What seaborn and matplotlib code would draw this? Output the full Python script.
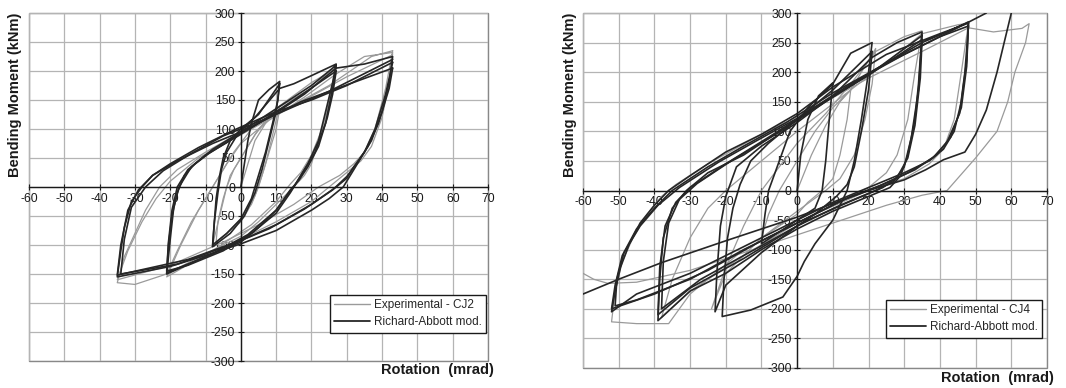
import matplotlib
matplotlib.use("Agg")
import matplotlib.pyplot as plt
import seaborn as sns
import pandas as pd
from matplotlib.lines import Line2D
from matplotlib.patches import Rectangle

# ---------------- data (rotation mrad, moment kNm) ----------------
# Panel 1: CJ2
cj2_model_small1 = [(0,0),(1,40),(2,80),(3,110),(5,150),(8,168),(11,182),(10.5,150),(9,110),(7,60),(5,20),(3,-20),(0,-55),(-4,-80),(-8,-100),(-7.5,-60),(-7,-20),(-6,20),(-5,50),(-3,80),(0,100),(5,125),(11,178)]
cj2_model_small2 = [(11,178),(10,130),(8,80),(6,30),(4,-10),(1,-50),(-3,-80),(-8,-103),(-7.5,-60),(-6.5,-10),(-5.5,30),(-4,60),(-1,90),(4,120),(11,170)]
cj2_model_mid1 = [(11,170),(15,178),(20,192),(27,212),(26,180),(24,130),(22,80),(19,40),(17,20),(15,0),(13,-15),(10,-40),(5,-70),(0,-95),(-10,-120),(-21,-148),(-20.5,-100),(-19.5,-50),(-18,-10),(-16,20),(-13,40),(-8,65),(0,95),(10,135),(20,175),(27,210)]
cj2_model_mid2 = [(27,210),(26,170),(24,110),(21,60),(18,30),(16,10),(14,-10),(10,-45),(3,-80),(-5,-110),(-15,-135),(-21,-145),(-20.5,-95),(-19.5,-40),(-18,0),(-15,30),(-10,55),(-3,80),(5,110),(15,150),(27,200)]
cj2_model_mid3 = [(27,200),(26,160),(24.5,120),(22,70),(19,35),(16.5,12),(14,-5),(10,-40),(2,-82),(-8,-115),(-21,-150),(-20,-90),(-19,-35),(-17.5,0),(-14,35),(-9,58),(-2,85),(8,120),(18,160),(27,205)]
cj2_model_big1 = [(27,205),(35,212),(43,225),(42,180),(40,130),(37,80),(34,50),(31,20),(29,0),(25,-20),(20,-40),(10,-75),(0,-98),(-10,-118),(-20,-137),(-35,-155),(-34,-110),(-33,-70),(-31,-25),(-28,0),(-25,20),(-20,40),(-12,68),(-2,98),(10,130),(20,150),(30,175),(43,215)]
cj2_model_big2 = [(43,215),(41,160),(38,100),(35,60),(32,35),(30,15),(27,0),(20,-30),(10,-65),(0,-92),(-15,-125),(-35,-152),(-34,-100),(-32,-40),(-29,-5),(-25,20),(-18,45),(-8,75),(0,95),(17,147),(43,205)]
cj2_model_big3 = [(43,205),(42,170),(39,110),(36,70),(33,42),(30,18),(26,-5),(18,-38),(8,-72),(-3,-100),(-18,-133),(-34,-150),(-33,-90),(-31,-35),(-27,0),(-22,28),(-14,58),(-5,88),(8,120),(25,165),(43,220)]

cj2_exp_small1 = [(0,0),(2,40),(4,80),(7,110),(9,125),(11,135),(10,100),(8,60),(6,20),(4,-15),(2,-40),(0,-60),(-4,-80),(-7,-95),(-6.5,-60),(-5,-20),(-3,20),(0,50),(4,90),(8,120),(11,140)]
cj2_exp_small2 = [(11,140),(9,90),(7,40),(5,0),(3,-30),(0,-55),(-4,-80),(-8,-100),(-6,-50),(-4,0),(-2,30),(1,60),(5,100),(11,140)]
cj2_exp_mid1 = [(11,140),(20,180),(27,205),(26,170),(24,120),(22,80),(20,40),(18,20),(15,0),(10,-30),(5,-60),(0,-85),(-10,-115),(-21,-150),(-18,-110),(-14,-60),(-10,-20),(-6,20),(-2,60),(3,100),(10,135),(20,170),(27,210)]
cj2_exp_mid2 = [(27,210),(25,150),(23,100),(20,55),(17,25),(14,5),(10,-25),(3,-65),(-8,-110),(-21,-155),(-17,-100),(-12,-40),(-8,0),(-4,40),(0,75),(8,115),(18,155),(27,195)]
cj2_exp_big1 = [(27,195),(35,225),(43,232),(42,180),(40,120),(37,70),(34,45),(30,25),(25,0),(20,-25),(10,-60),(0,-90),(-10,-120),(-22,-152),(-30,-168),(-35,-165),(-33,-120),(-30,-80),(-27,-40),(-23,0),(-18,30),(-10,60),(0,95),(10,125),(25,175),(37,225),(43,235)]
cj2_exp_big2 = [(43,235),(41,170),(38,100),(35,60),(32,40),(28,20),(22,0),(15,-30),(5,-65),(-5,-95),(-20,-135),(-35,-160),(-32,-110),(-28,-60),(-24,-20),(-20,10),(-12,50),(0,90),(15,140),(30,190),(43,228)]

# Panel 2: CJ4
cj4_model_small = [(0,0),(1,60),(3,120),(6,160),(10,182),(9,120),(8,50),(7,0),(5,-30),(0,-50),(-5,-70),(-10,-90),(-9,-40),(-8,0),(-5,50),(-2,100),(3,140),(10,180)]
cj4_model_mid1 = [(10,180),(15,232),(21,250),(20,200),(18,120),(16,50),(14,0),(10,-50),(5,-90),(2,-120),(0,-145),(-4,-180),(-13,-202),(-21,-213),(-20.5,-150),(-19.5,-80),(-18,-30),(-16,10),(-13,50),(-8,80),(0,120),(10,170),(21,235)]
cj4_model_mid2 = [(21,235),(20,170),(18,100),(16,40),(14,10),(11,-10),(5,-40),(0,-60),(-10,-105),(-20,-160),(-23,-205),(-22.5,-140),(-21.5,-60),(-20,-10),(-17,40),(-10,75),(0,115),(10,160),(21,225)]
cj4_model_large1 = [(21,225),(28,250),(35,268),(34,180),(33,120),(31,60),(29,25),(26,5),(20,-10),(10,-35),(0,-65),(-10,-100),(-20,-140),(-30,-170),(-39,-220),(-38.5,-150),(-37.5,-80),(-35,-30),(-31,0),(-25,30),(-15,60),(-5,100),(5,140),(20,195),(35,262)]
cj4_model_large2 = [(35,262),(34,170),(32,90),(30,40),(27,15),(22,0),(12,-25),(0,-60),(-15,-115),(-30,-165),(-39,-210),(-38.5,-130),(-37,-60),(-34,-20),(-30,5),(-20,45),(-8,90),(5,140),(20,195),(35,255)]
cj4_model_large3 = [(35,255),(34.5,190),(33,110),(31,55),(28,22),(24,5),(15,-18),(3,-50),(-12,-100),(-27,-150),(-38,-200),(-37.5,-120),(-36,-55),(-33,-15),(-28,12),(-18,52),(-6,95),(8,150),(22,205),(35,250)]
cj4_model_xl1 = [(35,250),(42,268),(48,285),(47.5,220),(46,150),(44,100),(41,70),(37,50),(30,30),(20,5),(10,-20),(0,-50),(-10,-80),(-20,-110),(-30,-140),(-45,-175),(-52,-205),(-51,-170),(-49.5,-130),(-47,-90),(-44,-55),(-40,-25),(-36,0),(-30,25),(-20,65),(-10,95),(0,130),(10,175),(25,230),(40,265),(48,283)]
cj4_model_xl2 = [(48,283),(47.5,210),(46,140),(43,90),(39,60),(33,35),(24,10),(15,-10),(5,-40),(-10,-85),(-25,-135),(-40,-175),(-52,-200),(-51,-160),(-49,-110),(-45,-65),(-40,-30),(-35,0),(-25,40),(-15,75),(-3,115),(10,165),(25,215),(40,260),(48,278)]
cj4_model_xl3 = [(48,278),(47,200),(45.5,130),(42,82),(38,55),(31,30),(22,5),(12,-18),(0,-55),(-15,-100),(-30,-150),(-45,-185),(-51,-195),(-50.5,-150),(-48.5,-105),(-44,-60),(-39,-25),(-33,5),(-22,48),(-12,82),(0,122),(15,180),(30,230),(44,272),(53,300)]
cj4_model_final = [(-60,-175),(-50,-150),(-38,-122),(-20,-85),(-10,-65),(0,-45),(10,-22),(20,0),(30,18),(36,35),(41,52),(47,65),(50,95),(53,136),(56,200),(58,250),(60,300)]

cj4_exp_small = [(0,0),(4,60),(8,110),(12,150),(15,170),(14,120),(12,60),(10,20),(7,0),(3,-20),(0,-40),(-5,-60),(-10,-80),(-8,-40),(-5,0),(0,50),(5,100),(10,140),(15,170)]
cj4_exp_mid = [(15,170),(20,220),(22,240),(21,180),(19,120),(16,60),(12,20),(8,0),(0,-35),(-10,-80),(-20,-140),(-24,-200),(-20,-130),(-15,-60),(-10,0),(-5,40),(0,80),(8,130),(15,180),(22,235)]
cj4_exp_large = [(22,235),(30,260),(35,270),(33,200),(31,120),(28,60),(25,30),(20,5),(10,-25),(0,-55),(-15,-110),(-30,-170),(-38,-215),(-35,-150),(-30,-80),(-25,-30),(-20,0),(-10,50),(0,100),(15,170),(30,240),(35,265)]
cj4_exp_xl = [(35,265),(45,280),(48,283),(46,200),(44,120),(41,70),(37,45),(30,20),(20,0),(5,-40),(-15,-100),(-30,-175),(-36,-225),(-45,-225),(-52,-222),(-51,-170),(-49,-120),(-46,-80),(-42,-40),(-38,-10),(-34,10),(-25,45),(-10,95),(5,140),(20,190),(35,235),(48,275)]
cj4_exp_final = [(48,275),(55,268),(63,274),(65,282),(64,250),(61,200),(59,150),(56,100),(50,55),(42,0),(35,-8),(25,-25),(10,-55),(-10,-95),(-30,-135),(-45,-155),(-53,-157),(-57,-150),(-60,-140)]

cj2_model = [cj2_model_small1, cj2_model_small2, cj2_model_mid1, cj2_model_mid2, cj2_model_mid3,
             cj2_model_big1, cj2_model_big2, cj2_model_big3]
cj2_exp = [cj2_exp_small1, cj2_exp_small2, cj2_exp_mid1, cj2_exp_mid2, cj2_exp_big1, cj2_exp_big2]
cj4_model = [cj4_model_small, cj4_model_mid1, cj4_model_mid2, cj4_model_large1, cj4_model_large2,
             cj4_model_large3, cj4_model_xl1, cj4_model_xl2, cj4_model_xl3, cj4_model_final]
cj4_exp = [cj4_exp_small, cj4_exp_mid, cj4_exp_large, cj4_exp_xl, cj4_exp_final]

x_ticks = list(range(-60, 71, 10))
y_ticks = list(range(-300, 301, 50))

EXP_COLOR = "#9a9a9a"
MOD_COLOR = "#262626"
GRID_COLOR = "#b4b4b4"


def to_frame(exp_loops, mod_loops):
    rows = []
    seg = 0
    for name, loops in (("Experimental", exp_loops), ("Model", mod_loops)):
        for loop in loops:
            for i, (xv, yv) in enumerate(loop):
                rows.append({"x": xv, "y": yv, "series": name, "seg": seg, "order": i})
            seg += 1
    return pd.DataFrame(rows)


sns.set_theme(style="white")
plt.rcParams["font.family"] = ["Liberation Sans", "DejaVu Sans"]
plt.rcParams["axes.unicode_minus"] = False

fig = plt.figure(figsize=(10.66, 3.88), dpi=100)

panels = [
    dict(rect=[29/1066, 1-361/388, 459/1066, 348/388], exp=cj2_exp, mod=cj2_model,
         exp_label="Experimental - CJ2", ylab_x=15/1066, xlab=(437/1066, 1-370/388),
         leg=(330/1066, 1-295/388)),
    dict(rect=[583/1066, 1-368/388, 464/1066, 355/388], exp=cj4_exp, mod=cj4_model,
         exp_label="Experimental - CJ4", ylab_x=570/1066, xlab=(997/1066, 1-378/388),
         leg=(886/1066, 1-300/388)),
]

for p in panels:
    ax = fig.add_axes(p["rect"])
    df = to_frame(p["exp"], p["mod"])
    sns.lineplot(data=df, x="x", y="y", hue="series", units="seg", estimator=None,
                 sort=False, hue_order=["Experimental", "Model"],
                 palette={"Experimental": EXP_COLOR, "Model": MOD_COLOR},
                 legend=False, ax=ax, linewidth=1.0)
    for ln in ax.lines:
        if matplotlib.colors.to_hex(ln.get_color()) == MOD_COLOR:
            ln.set_linewidth(1.2)
        else:
            ln.set_linewidth(0.9)
    ax.set_xlim(-60, 70)
    ax.set_ylim(-300, 300)
    ax.set_xticks(x_ticks)
    ax.set_yticks(y_ticks)
    ax.grid(True, color=GRID_COLOR, linewidth=0.9)
    ax.set_axisbelow(True)
    ax.spines["left"].set_position(("data", 0))
    ax.spines["bottom"].set_position(("data", 0))
    ax.spines["left"].set_color("#1a1a1a")
    ax.spines["bottom"].set_color("#1a1a1a")
    ax.spines["left"].set_linewidth(1.0)
    ax.spines["bottom"].set_linewidth(1.0)
    ax.spines["top"].set_visible(False)
    ax.spines["right"].set_visible(False)
    ax.add_patch(Rectangle((0, 0), 1, 1, transform=ax.transAxes, fill=False,
                           edgecolor="#888888", linewidth=1.0, clip_on=False, zorder=0.5))
    ax.tick_params(axis="both", which="both", direction="inout", length=4, width=0.8,
                   labelsize=8.8, colors="#1a1a1a", pad=2, left=True, bottom=True)
    ax.set_xlabel("")
    ax.set_ylabel("")
    fig.text(p["ylab_x"], 1-95/388, "Bending Moment (kNm)", rotation=90, ha="center",
             va="center", fontsize=10.5, fontweight="bold", color="#1a1a1a")
    fig.text(p["xlab"][0], p["xlab"][1], "Rotation  (mrad)", ha="center", va="center",
             fontsize=10.5, fontweight="bold", color="#1a1a1a")
    handles = [Line2D([0], [0], color=EXP_COLOR, lw=1.0),
               Line2D([0], [0], color=MOD_COLOR, lw=1.3)]
    leg = ax.legend(handles, [p["exp_label"], "Richard-Abbott mod."],
                    loc="upper left", bbox_to_anchor=p["leg"], bbox_transform=fig.transFigure,
                    fontsize=8.5, frameon=True, fancybox=False, framealpha=1,
                    edgecolor="#1a1a1a", handlelength=3.0, handletextpad=0.4,
                    borderpad=0.35, labelspacing=0.45, borderaxespad=0)
    leg.get_frame().set_linewidth(1.0)

fig.savefig("out.png", dpi=100, facecolor="white")
